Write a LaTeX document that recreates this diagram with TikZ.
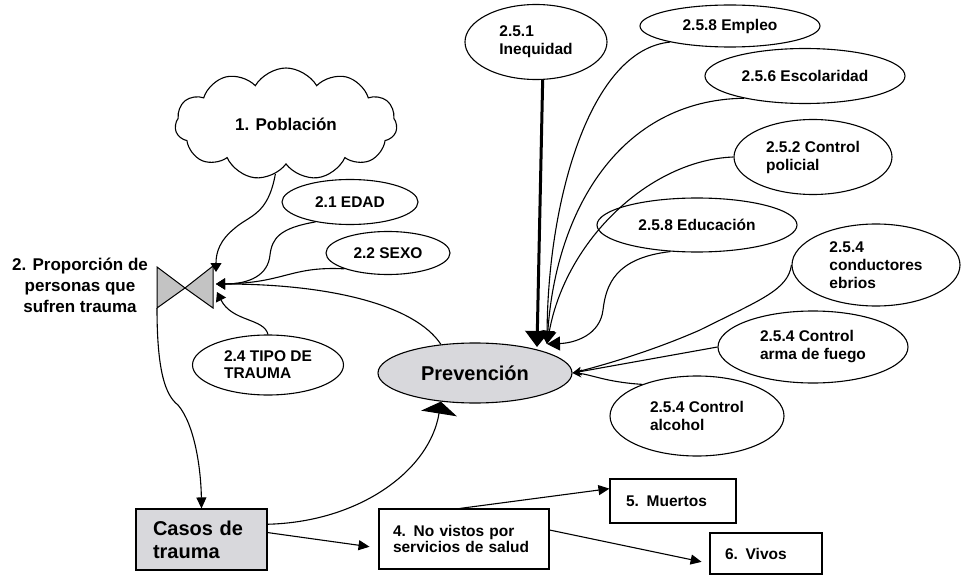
\documentclass[tikz,border=0pt]{standalone}
\usepackage{fontspec}
\setmainfont{Liberation Sans}
\usetikzlibrary{shapes.geometric,shapes.symbols,arrows.meta}
\definecolor{prevgray}{RGB}{216,216,220}
\definecolor{valvegray}{RGB}{195,195,195}
\begin{document}
\begin{tikzpicture}[x=1pt,y=-1pt,line width=1.1pt,
  bf/.style={font=\fontsize{15.5}{18}\selectfont\bfseries},
  oval/.style={ellipse,draw,inner sep=0pt,align=left,bf},
  boxn/.style={rectangle,draw,inner ysep=0pt,align=left,bf},
  tipv/.style={-{Triangle[length=9pt,width=11pt]}},
  tipb/.style={-{Triangle[length=13pt,width=14pt]}},
  tips/.style={-{Stealth[length=9pt,width=8pt]}},
  tipn/.style={-{Triangle[length=11pt,width=10pt]}}]
\useasboundingbox (0,0) rectangle (962,575);

% nodes
\node[cloud,draw,cloud puffs=11,cloud puff arc=120,cloud ignores aspect,
  minimum width=222pt,minimum height=112pt,inner sep=0pt,
  font=\fontsize{17}{20}\selectfont\bfseries] (pob) at (286,124) {1. Población};
\node[oval,minimum width=136pt,minimum height=45pt] (edad) at (350,202) {2.1 EDAD};
\node[oval,minimum width=124pt,minimum height=43pt] (sexo) at (388,253) {2.2 SEXO};
\node[oval,minimum width=151pt,minimum height=60pt,font=\fontsize{15.5}{17}\selectfont\bfseries] (tipo) at (268,365) {2.4 TIPO DE\\TRAUMA};
\node[oval,fill=prevgray,minimum width=194pt,minimum height=60pt,font=\fontsize{20}{24}\selectfont\bfseries] (prev) at (475,373) {Prevención};
\node[oval,minimum width=142pt,minimum height=75pt] (ineq) at (536,42) {2.5.1\\Inequidad};
\node[oval,minimum width=180pt,minimum height=42pt] (emp) at (730,26) {2.5.8 Empleo};
\node[oval,minimum width=200pt,minimum height=55pt] (esc) at (805,76) {2.5.6 Escolaridad};
\node[oval,minimum width=158pt,minimum height=75pt] (pol) at (813,157) {2.5.2 Control\\policial};
\node[oval,minimum width=200pt,minimum height=54pt] (edu) at (697,225) {2.5.8 Educación};
\node[oval,minimum width=168pt,minimum height=82pt] (cond) at (876,265) {2.5.4\\conductores\\ebrios};
\node[oval,minimum width=190pt,minimum height=72pt] (arma) at (813,347) {2.5.4 Control\\arma de fuego};
\node[oval,minimum width=174pt,minimum height=80pt] (alc) at (697,416) {2.5.4 Control\\alcohol};

\node[boxn,fill=prevgray,minimum height=61pt,text width=97pt,inner xsep=17pt,
  font=\fontsize{20}{23}\selectfont\bfseries] (casos) at (201.5,539.5) {Casos de\\trauma};
\node[boxn,minimum height=60pt,text width=142pt,inner xsep=14pt,
  font=\fontsize{15.5}{16.5}\selectfont\bfseries] (nov) at (464,539) {4. No vistos por\\servicios de salud};
\node[boxn,minimum height=44pt,text width=94pt,inner xsep=16pt] (mue) at (673,501) {5. Muertos};
\node[boxn,minimum height=41pt,text width=82pt,inner xsep=15pt] (viv) at (766,553.5) {6. Vivos};

\node[align=center,font=\fontsize{17}{21}\selectfont\bfseries] (prop) at (80,285) {2. Proporción de\\personas que\\sufren trauma};

% valve (bow tie)
\filldraw[fill=valvegray,line width=1pt] (157,267) -- (157,308) -- (185,288) -- cycle;
\filldraw[fill=valvegray,line width=1pt] (213,266) -- (213,308) -- (185,288) -- cycle;
\coordinate (vtop) at (216,272);
\coordinate (vmid) at (216,284);
\coordinate (vlow) at (217,292);
\coordinate (vout) at (157,308);
\coordinate (hubA) at (537,347);
\coordinate (hubB) at (547,344);

% connectors into the valve
\draw[tipv] (pob.258) .. controls (268,215) and (250,215) .. (235,228) .. controls (220,240) and (216,252) .. (vtop);
\draw[tipv] (edad.210) .. controls (280,228) and (272,238) .. (270,255) .. controls (268,275) and (250,284) .. (vmid);
\draw[tipv] (sexo.200) .. controls (290,266) and (285,283) .. (vmid);
\draw[tipv] (prev.140) .. controls (415,305) and (330,284) .. (vmid);
\draw[tipv] (tipo.north) .. controls (264,318) and (232,322) .. (vlow);

% valve to cases
\draw[tipn] (vout) .. controls (157,370) and (165,395) .. (178,405) .. controls (195,425) and (201,470) .. (casos.north);

% prevention inputs
\draw[line width=3pt,-{Triangle[length=16pt,width=24pt]}] (ineq.-80) -- (hubA);
\draw[tipb] (emp.195) .. controls (590,50) and (548,200) .. (hubB);
\draw[tipb] (esc.200) .. controls (620,100) and (556,210) .. (hubB);
\draw[tipb] (pol.west) .. controls (650,160) and (566,240) .. (hubB);
\draw[tipb] (edu.225) .. controls (615,258) and (606,285) .. (603,310) .. controls (600,335) and (575,343) .. (hubB);
\draw[tips] (cond.west) .. controls (788,290) and (760,300) .. (700,330) .. controls (650,352) and (600,366) .. (prev.east);
\draw[tips] (arma.west) -- (prev.east);
\draw[tips] (alc.150) .. controls (605,382) and (590,374) .. (prev.east);

% cases
\draw[-{Triangle[length=12pt,width=36pt]}] (casos.13) .. controls (360,522) and (430,470) .. (prev.220);
\draw[tipn,shorten >=9pt] (casos.6) -- (nov.186);
\draw[tipn] (nov.98) -- (mue.169);
\draw[tipn,shorten >=8pt] (nov.6) -- (viv.190);
\end{tikzpicture}
\end{document}
